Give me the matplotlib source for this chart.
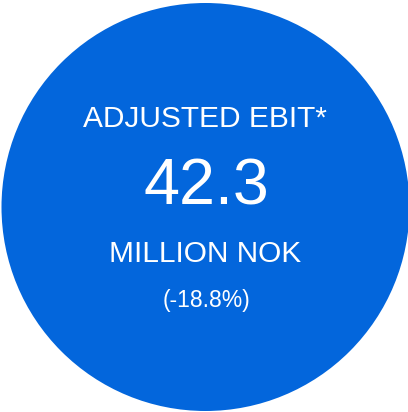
import matplotlib
matplotlib.use("Agg")
import matplotlib.pyplot as plt
from matplotlib.patches import Circle

title = "ADJUSTED EBIT*"
value = "42.3"
unit = "MILLION NOK"
change = "(-18.8%)"

W, H = 408, 412
fig = plt.figure(figsize=(W / 100, H / 100), dpi=100)
ax = fig.add_axes([0, 0, 1, 1])
ax.set_xlim(0, W)
ax.set_ylim(H, 0)
ax.set_aspect("equal")
ax.axis("off")

ax.add_patch(Circle((205.5, 207), 204, color="#0366DC", lw=0))

font = "Liberation Sans"
ax.text(205, 119, title, color="white", fontsize=21.5, family=font,
        ha="center", va="center")
ax.text(206, 187, value, color="white", fontsize=46.5, family=font,
        ha="center", va="center")
ax.text(205.5, 254, unit, color="white", fontsize=21.5, family=font,
        ha="center", va="center")
ax.text(207, 300, change, color="white", fontsize=16.5, family=font,
        ha="center", va="center")

fig.savefig("out.png", dpi=100, facecolor="white")
